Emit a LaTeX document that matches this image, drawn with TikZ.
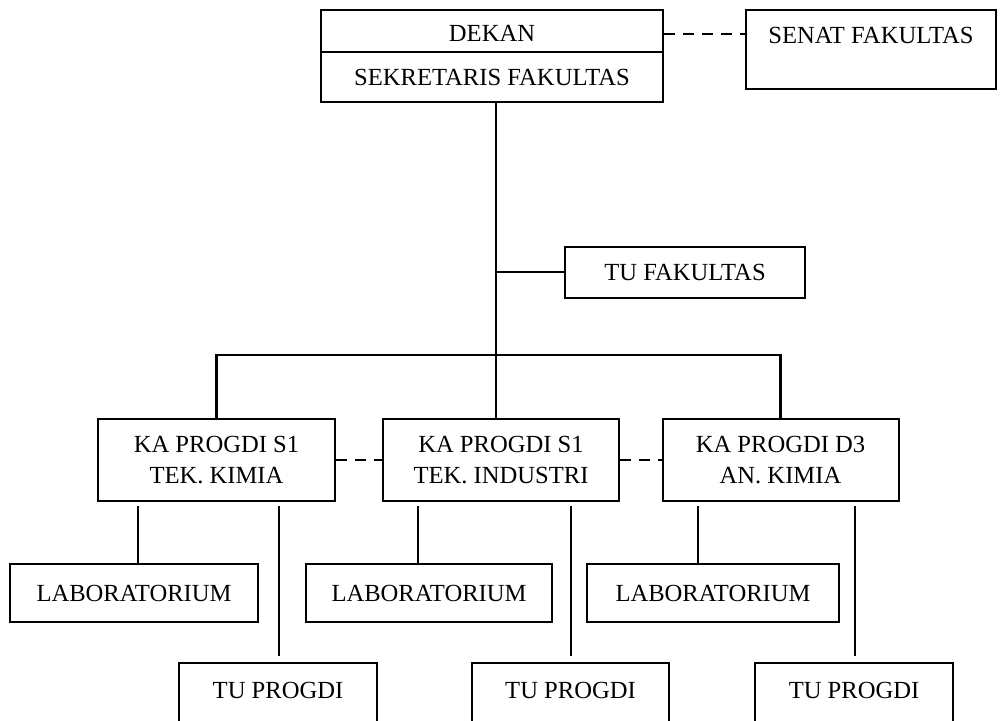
\documentclass[tikz,border=0pt]{standalone}
\usepackage{fontspec}
\setmainfont{Liberation Serif}
\usetikzlibrary{calc}
\begin{document}
\begin{tikzpicture}[x=0.5pt,y=-0.5pt,
  box/.style={draw, line width=1pt, rectangle, inner sep=0pt, align=center,
    font=\fontsize{12.3}{15.5}\selectfont},
  link/.style={line width=1pt},
  thin/.style={line width=0.8pt},
  dashlink/.style={line width=1pt, dash pattern=on 5.5pt off 4pt}]
\useasboundingbox (0,0) rectangle (1000,721);
\clip (0,0) rectangle (1000,721);
% top
\node[box, minimum width=171pt, minimum height=21pt, text height=11pt, text depth=0pt] (dekan) at (492,31) {DEKAN};
\node[box, minimum width=171pt, minimum height=25pt] (sekr) at (492,77) {SEKRETARIS FAKULTAS};
\node[box, minimum width=125pt, minimum height=39.5pt, text height=9pt, text depth=14.6pt] (senat) at (871,49.5) {SENAT FAKULTAS};
\draw[dashlink] ($(dekan.east)+(0,3)$) -- ($(dekan.east -| senat.west)+(0,3)$);
% TU fakultas
\node[box, minimum width=120pt, minimum height=25.5pt] (tufak) at (685,272.5) {TU FAKULTAS};
% KA progdi
\node[box, minimum width=118.5pt, minimum height=41pt] (ka1) at (216.5,460) {KA PROGDI S1\\TEK. KIMIA};
\node[box, minimum width=118pt, minimum height=41pt] (ka2) at (501,460) {KA PROGDI S1\\TEK. INDUSTRI};
\node[box, minimum width=118pt, minimum height=41pt] (ka3) at (780.5,460) {KA PROGDI D3\\AN. KIMIA};
\draw[dashlink] (ka1.east) -- (ka2.west);
\draw[dashlink] (ka2.east) -- (ka3.west);
% main line
\coordinate (m) at (496,102);
\coordinate (bus) at (0,355);
\draw[line width=1.3pt] (m) -- (m |- ka2.north);
\draw[link] (m |- tufak.west) -- (tufak.west);
\draw[line width=1.2pt] (ka1.north) -- (ka1.north |- bus) -- (ka3.north |- bus) -- (ka3.north);
% laboratorium
\node[box, minimum width=124pt, minimum height=29pt] (lab1) at (134,593) {LABORATORIUM};
\node[box, minimum width=123pt, minimum height=29pt] (lab2) at (429,593) {LABORATORIUM};
\node[box, minimum width=126pt, minimum height=29pt] (lab3) at (713,593) {LABORATORIUM};
% TU progdi (open at the bottom)
\node[box, draw=none, minimum width=98pt, minimum height=26pt] (tu1) at (278,690) {TU PROGDI};
\node[box, draw=none, minimum width=97.5pt, minimum height=26pt] (tu2) at (570.5,690) {TU PROGDI};
\node[box, draw=none, minimum width=98pt, minimum height=26pt] (tu3) at (854,690) {TU PROGDI};
\foreach \t in {tu1,tu2,tu3}{
  \draw[line width=1pt] ($(\t.south west)+(0,30)$) -- (\t.north west) -- (\t.north east) -- ($(\t.south east)+(0,30)$);
}
% connectors below KA
\coordinate (l1) at (138,506);
\coordinate (l2) at (418,506);
\coordinate (l3) at (698,506);
\coordinate (r1) at (279,506);
\coordinate (r2) at (571,506);
\coordinate (r3) at (855,506);
\draw[thin] (l1) -- (l1 |- lab1.north);
\draw[thin] (l2) -- (l2 |- lab2.north);
\draw[thin] (l3) -- (l3 |- lab3.north);
\draw[thin] (r1) -- ($(r1 |- tu1.north)+(0,-7)$);
\draw[thin] (r2) -- ($(r2 |- tu2.north)+(0,-7)$);
\draw[thin] (r3) -- ($(r3 |- tu3.north)+(0,-7)$);
\end{tikzpicture}
\end{document}
